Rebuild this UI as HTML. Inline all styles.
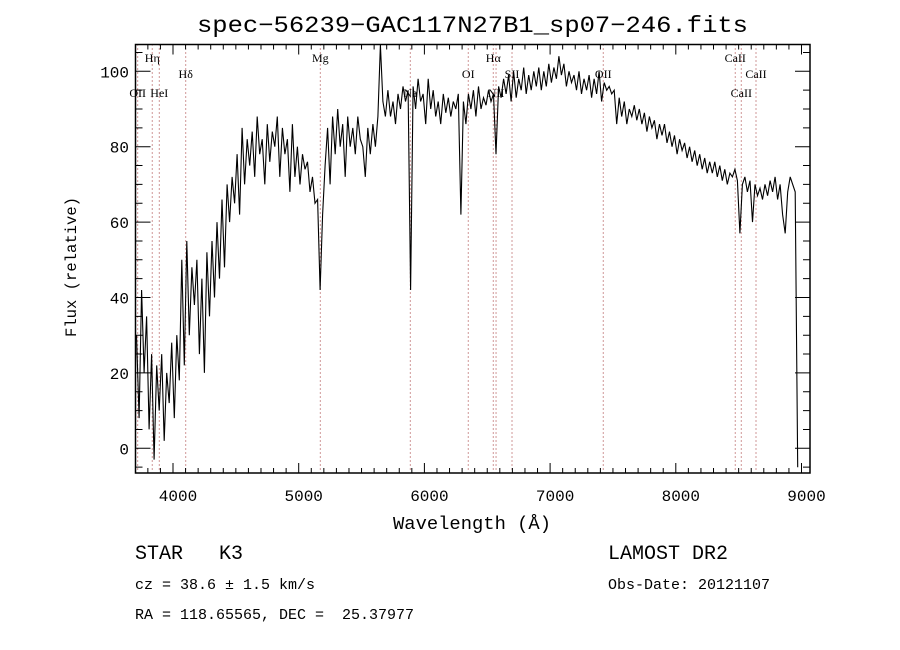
<!DOCTYPE html>
<html><head><meta charset="utf-8"><style>
html,body{margin:0;padding:0;background:#fff;}
svg{display:block;font-family:"Liberation Mono",monospace;}
text{white-space:pre;}
.ser{font-family:"Liberation Serif",serif;}
</style></head><body>
<svg id="chart" width="900" height="650" viewBox="0 0 900 650" xmlns="http://www.w3.org/2000/svg" xml:space="preserve">
<rect width="900" height="650" fill="#fff"/>
<text x="197" y="32" font-size="23" textLength="551" lengthAdjust="spacingAndGlyphs">spec−56239−GAC117N27B1_sp07−246.fits</text>
<g id="lines"></g>
<g id="axes"></g>
<path id="spec" fill="none" stroke="#000" stroke-width="1.1"/>
<text x="393" y="529" font-size="18" textLength="158" lengthAdjust="spacingAndGlyphs">Wavelength (Å)</text>
<text x="76" y="337" font-size="16" textLength="140" lengthAdjust="spacingAndGlyphs" transform="rotate(-90 76 337)">Flux (relative)</text>
<text x="135" y="559" font-size="20">STAR   K3</text>
<text x="608" y="559" font-size="20">LAMOST DR2</text>
<text x="135" y="589" font-size="15">cz = 38.6 ± 1.5 km/s</text>
<text x="608" y="589" font-size="15">Obs-Date: 20121107</text>
<text x="135" y="619" font-size="15">RA = 118.65565, DEC =  25.37977</text>
</svg>
<script>
const lamStart = 3710;
const lamStep = 20;
const flux = [
30,8,42,20,35,5,25,-3,22,10,
25,2,20,12,28,8,30,18,50,22,
55,30,48,38,50,25,45,20,52,35,
55,40,60,45,66,48,70,60,72,65,
78,62,85,70,82,75,84,72,88,78,
82,70,86,76,84,80,88,72,85,78,
82,68,86,72,80,70,78,74,76,68,
72,65,66,42,62,75,85,70,88,78,
90,80,86,72,88,80,85,78,88,82,
80,72,85,78,86,80,88,107,92,88,
95,88,92,86,94,90,96,92,95,42,
96,90,98,92,94,86,98,90,95,88,
92,86,94,89,93,88,92,90,94,62,
92,86,94,90,95,88,96,90,93,91,
95,92,94,78,96,93,98,94,99,92,
100,93,98,95,101,94,99,95,100,96,
101,95,100,96,102,97,101,98,104,99,
102,96,100,97,99,95,100,94,98,95,
99,93,98,94,100,92,97,95,96,94,
95,86,93,88,92,86,90,88,91,87,
90,86,89,84,88,85,87,82,86,83,
86,81,84,80,83,78,82,79,81,77,
80,76,79,75,78,74,77,73,76,73,
76,72,75,71,74,70,73,72,74,71,
57,70,72,68,71,60,70,67,69,66,
70,67,71,68,72,66,70,62,57,68,
72,70,68,-5
];
const xTicks = [4000,5000,6000,7000,8000,9000];
const yTicks = [0,20,40,60,80,100];
const lineNames = ["OII","Hη","HeI","Hδ","Mg","Na","OI","Hα","NII","SII","OII","CaII","CaII","CaII"];
const lineLams = [3719,3835,3891,4101,5172,5888,6349,6548,6570,6697,7423,8473,8521,8638];
const lineRow = [2,0,2,1,0,2,1,0,2,1,1,0,2,1];

const L=135.5,R=810,T=44.5,B=473;
const X=l=>173+(l-4000)*0.1257;
const Y=f=>448.3-f*3.77;
const NS="http://www.w3.org/2000/svg";
function mk(tag,attrs,parent){const e=document.createElementNS(NS,tag);for(const k in attrs)e.setAttribute(k,attrs[k]);parent.appendChild(e);return e;}

const lg=document.getElementById('lines');
lineLams.forEach((lam,i)=>{
  const x=X(lam);
  const ln=mk('line',{x1:x,x2:x,y1:T,y2:B,stroke:'#a03030','stroke-width':1,'stroke-dasharray':'1,3'},lg);
  
  
  const ys=[62,78,97][lineRow[i]];
  const t=mk('text',{x:x,y:ys,'font-size':12,'text-anchor':'middle','class':'ser'},lg);
  t.textContent=lineNames[i];
  
  
});

const ax=document.getElementById('axes');
const frame=mk('rect',{x:L,y:T,width:R-L,height:B-T,fill:'none',stroke:'#000','stroke-width':1.5},ax);


let d='';
for(let l=3800;l<=9000;l+=100){const x=X(l);const len=(l%1000===0)?10:5;d+=`M${x},${B}v${-len}M${x},${T}v${len}`;}
for(let f=-5;f<=105;f+=5){const y=Y(f);const len=(f%20===0)?15:7;d+=`M${L},${y}h${len}M${R},${y}h${-len}`;}
const tk=mk('path',{d:d,stroke:'#000','stroke-width':1,fill:'none'},ax);


xTicks.forEach(v=>{const t=mk('text',{x:X(v)+5,y:501,'font-size':16,'text-anchor':'middle'},ax);t.textContent=v;
  
  });
yTicks.forEach(v=>{const t=mk('text',{x:129,y:Y(v)+6,'font-size':16,'text-anchor':'end'},ax);t.textContent=v;
  
  });

let p='';
flux.forEach((f,i)=>{const x=X(lamStart+i*lamStep);const y=Math.max(T,Math.min(B,Y(f)));p+=(i?'L':'M')+x.toFixed(1)+','+y.toFixed(1);});
document.getElementById('spec').setAttribute('d',p);
</script>
</body></html>
